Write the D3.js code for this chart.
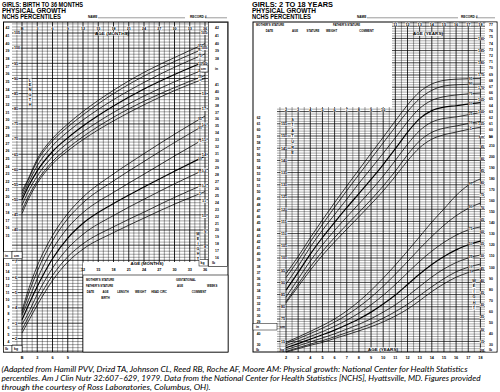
<!DOCTYPE html>
<html>
<head>
<meta charset="utf-8">
<script src="https://cdn.jsdelivr.net/npm/d3@7"></script>
<style>
  body { margin: 0; background: #fff; }
  svg { display: block; }
  text { font-family: "Liberation Sans", Arial, sans-serif; fill: #000; }
</style>
</head>
<body>
<svg id="chart" width="500" height="392"></svg>
<script>
// percentile curves, NCHS girls
const percentiles = [5, 10, 25, 50, 75, 90, 95];

// birth to 36 months
const infantMonths = [0, 1, 3, 6, 9, 12, 18, 24, 30, 36];
const infantLengthCm = [
  [45.4, 49.2, 55.4, 61.8, 66.1, 69.8, 76.0, 81.3, 86.0, 90.0],
  [46.5, 50.2, 56.2, 62.6, 67.0, 70.8, 77.2, 82.5, 87.0, 91.0],
  [48.2, 51.9, 57.8, 64.2, 68.7, 72.4, 78.8, 84.2, 88.9, 93.1],
  [49.9, 53.5, 59.5, 65.9, 70.4, 74.3, 80.9, 86.5, 91.3, 95.6],
  [51.0, 54.6, 61.2, 67.8, 72.4, 76.3, 83.0, 88.7, 93.7, 98.1],
  [52.0, 55.6, 62.7, 69.4, 74.0, 78.0, 85.0, 90.8, 95.6, 100.0],
  [52.9, 56.1, 63.4, 70.2, 75.0, 79.1, 86.1, 92.0, 96.9, 101.5]
];
const infantWeightKg = [
  [2.36, 2.97, 4.18, 5.79, 7.00, 7.84, 8.92, 9.87, 10.78, 11.60],
  [2.58, 3.22, 4.47, 6.12, 7.34, 8.19, 9.30, 10.26, 11.22, 12.10],
  [2.93, 3.50, 4.88, 6.60, 7.89, 8.81, 10.04, 11.10, 12.11, 13.05],
  [3.23, 3.98, 5.40, 7.21, 8.56, 9.53, 10.82, 11.90, 12.93, 13.93],
  [3.52, 4.29, 5.90, 7.83, 9.24, 10.23, 11.55, 12.74, 13.93, 15.08],
  [3.64, 4.65, 6.39, 8.38, 9.83, 10.87, 12.30, 13.57, 14.81, 15.97],
  [3.81, 4.92, 6.74, 8.73, 10.17, 11.24, 12.76, 14.08, 15.35, 16.54]
];

// 2 to 18 years
const childYears = [2, 3, 4, 5, 6, 7, 8, 9, 10, 11, 12, 13, 14, 15, 16, 17, 18];
const childStatureCm = [
  [81.6, 88.3, 95.0, 101.1, 106.6, 111.8, 116.9, 122.1, 127.5, 133.5, 139.8, 145.2, 148.7, 150.5, 151.6, 152.7, 153.6],
  [82.1, 89.3, 96.4, 102.7, 108.4, 113.6, 118.7, 123.9, 129.5, 135.6, 142.3, 148.0, 151.5, 153.2, 154.1, 155.1, 156.0],
  [84.0, 91.4, 98.8, 105.4, 111.3, 116.8, 122.2, 127.7, 133.6, 140.0, 146.6, 152.2, 155.7, 157.2, 157.8, 158.7, 159.6],
  [86.8, 94.1, 101.6, 108.4, 114.6, 120.6, 126.4, 132.2, 138.3, 144.8, 151.5, 157.1, 160.4, 161.8, 162.4, 163.1, 163.7],
  [89.3, 96.6, 104.5, 111.4, 117.8, 124.1, 130.6, 136.7, 142.9, 149.3, 155.8, 161.3, 164.6, 166.1, 166.8, 167.3, 167.6],
  [92.0, 99.0, 106.6, 113.8, 120.8, 127.6, 134.2, 140.7, 147.2, 153.7, 160.0, 165.3, 168.7, 170.5, 171.0, 171.2, 171.3],
  [93.6, 100.6, 108.3, 115.6, 122.7, 129.5, 136.2, 142.9, 149.5, 156.2, 162.7, 168.1, 171.3, 172.8, 173.3, 173.5, 173.6]
];
const childWeightKg = [
  [10.6, 12.0, 13.4, 14.6, 16.2, 17.7, 19.3, 21.0, 23.0, 25.4, 28.2, 31.7, 35.4, 38.6, 41.3, 43.2, 44.7],
  [10.9, 12.4, 13.9, 15.3, 16.9, 18.6, 20.3, 22.2, 24.5, 27.2, 30.2, 33.8, 37.4, 40.7, 43.5, 45.4, 46.7],
  [11.6, 13.2, 14.8, 16.4, 18.1, 20.0, 22.0, 24.3, 27.0, 30.0, 33.6, 37.5, 41.4, 44.7, 47.3, 49.2, 50.4],
  [12.4, 14.1, 15.9, 17.7, 19.6, 21.8, 24.2, 27.0, 30.3, 34.0, 38.3, 42.6, 46.5, 49.8, 52.5, 54.6, 56.1],
  [13.3, 15.1, 17.0, 19.0, 21.2, 23.7, 26.6, 30.0, 33.9, 38.3, 43.1, 47.8, 52.0, 55.6, 58.5, 60.7, 61.9],
  [14.1, 16.1, 18.2, 20.4, 22.9, 25.8, 29.2, 33.1, 37.6, 42.5, 47.7, 53.0, 58.0, 62.6, 66.5, 69.5, 71.7],
  [14.6, 16.8, 19.1, 21.5, 24.2, 27.5, 31.4, 35.9, 40.9, 46.3, 52.0, 57.9, 63.9, 69.3, 74.8, 79.0, 81.6]
];

// tick labels
const monthTicks = [0, 3, 6, 9, 12, 15, 18, 21, 24, 27, 30, 33, 36];
const yearTicks = d3.range(2, 19);
const footnote = [
  "(Adapted from Hamill PVV, Drizd TA, Johnson CL, Reed RB, Roche AF, Moore AM: Physical growth: National Center for Health Statistics",
  "percentiles. Am J Clin Nutr 32:607\u2013629, 1979. Data from the National Center for Health Statistics [NCHS], Hyattsville, MD. Figures provided",
  "through the courtesy of Ross Laboratories, Columbus, OH)."
];

const svg = d3.select("#chart");
svg.append("rect").attr("width", 500).attr("height", 392).attr("fill", "#fff");

// scales
const xL = d3.scaleLinear().domain([0, 36]).range([22, 205]);
const yLen = d3.scaleLinear().domain([105, 40]).range([33, 230]);
const yWt = d3.scaleLinear().domain([8, 18]).range([246.7, 93.7]);
const xR = d3.scaleLinear().domain([2, 18]).range([286, 480.4]);
const yS = d3.scaleLinear().domain([150, 100]).range([136, 258]);
const yW = d3.scaleLinear().domain([50, 10]).range([256, 353.6]);

const gGrid = svg.append("g").attr("stroke", "#000");
const gLines = svg.append("g").attr("stroke", "#000");
const gLab = svg.append("g");

function line(x1, y1, x2, y2, w, g) {
  (g || gLines).append("line")
    .attr("x1", x1).attr("y1", y1).attr("x2", x2).attr("y2", y2)
    .attr("stroke-width", w || 0.6);
}
function text(x, y, s, size, opt) {
  opt = opt || {};
  const t = gLab.append("text").attr("x", x).attr("y", y).text(s)
    .attr("font-size", size)
    .attr("text-anchor", opt.anchor || "start");
  if (opt.bold) t.attr("font-weight", "bold");
  if (opt.italic) t.attr("font-style", "italic");
  if (opt.family) t.style("font-family", opt.family);
  if (opt.len) t.attr("textLength", opt.len).attr("lengthAdjust", "spacingAndGlyphs");
  return t;
}
function boxText(x, y, s, size, anchor, bold) {
  const w = String(s).length * size * 0.56 + 0.8;
  const x0 = anchor === "middle" ? x - w / 2 : anchor === "end" ? x - w + 0.4 : x - 0.4;
  gLab.append("rect").attr("x", x0).attr("y", y - size * 0.8)
    .attr("width", w).attr("height", size * 0.95).attr("fill", "#fff");
  return text(x, y, s, size, { anchor: anchor, bold: bold !== false });
}
function whiteBox(x, y, w, h) {
  gLab.append("rect").attr("x", x).attr("y", y).attr("width", w).attr("height", h)
    .attr("fill", "#fff").attr("stroke", "#000").attr("stroke-width", 0.5);
}
function vword(x, y0, word, step, size) {
  word.split("").forEach((ch, i) => {
    gLab.append("rect").attr("x", x - size * 0.45).attr("y", y0 + i * step - size * 0.8)
      .attr("width", size * 0.9).attr("height", size * 0.95).attr("fill", "#fff");
    text(x, y0 + i * step, ch, size, { anchor: "middle", bold: true });
  });
}

// ---------- titles ----------
function header(x0, title, nameX, nameEnd, recX, recEnd) {
  text(x0, 7, title, 6.4, { bold: true, len: 81 });
  text(x0, 12.8, "PHYSICAL GROWTH", 6.4, { bold: true, len: 64 });
  text(x0, 18.6, "NCHS PERCENTILES", 6.4, { bold: true, len: 59 });
  text(nameX, 17.5, "NAME", 3.2, { bold: true });
  line(nameX + 10, 17.8, nameEnd, 17.8, 0.4);
  text(recX, 17.5, "RECORD #", 3.2, { bold: true });
  line(recX + 15, 17.8, recEnd, 17.8, 0.4);
}
header(2, "GIRLS: BIRTH TO 36 MONTHS", 88, 185, 190, 227);
header(252, "GIRLS: 2 TO 18 YEARS", 357, 458, 461, 495);

// ---------- left panel grid ----------
d3.range(-2, 37).forEach(m => {
  const x = xL(m);
  if (x < 12) return;
  line(x, 22, x, m <= 12 ? 352 : 262, m % 3 === 0 ? 0.85 : 0.38, gGrid);
});
d3.range(30, 109).forEach(c => {
  const y = yLen(c);
  if (y < 22 || y > 262) return;
  line(12, y, 208, y, c % 5 === 0 ? 0.8 : 0.36, gGrid);
});
d3.range(12, 69, 2).forEach(k => {
  const kg = k / 10, y = yWt(kg);
  if (y < 263 || y > 352) return;
  line(12, y, 83, y, k % 10 === 0 ? 0.8 : 0.36, gGrid);
});

// ---------- right panel grid ----------
d3.range(3, 37).forEach(h => {
  const a = h / 2, x = xR(a);
  line(x, a > 10.5 ? 22 : 107, x, 352, h % 2 === 0 ? 0.8 : 0.38, gGrid);
});
d3.range(70, 198).forEach(c => {
  const y = yS(c);
  if (y < 22 || y > 330) return;
  line(y < 107 ? 392 : 277, y, 485, y, c % 5 === 0 ? 0.75 : 0.34, gGrid);
});
d3.range(8, 20).forEach(kg => {
  const y = yW(kg);
  if (y < 331 || y > 352) return;
  line(277, y, 485, y, kg % 5 === 0 ? 0.75 : 0.34, gGrid);
});

// ---------- curves ----------
function drawCurves(ages, rows, xs, ys) {
  const gen = d3.line().x((d, i) => xs(ages[i])).y(d => ys(d)).curve(d3.curveMonotoneX);
  rows.forEach((row, i) => {
    gLines.append("path").attr("d", gen(row)).attr("fill", "none")
      .attr("stroke-width", percentiles[i] === 50 ? 1.2 : 0.75);
  });
}
drawCurves(infantMonths, infantLengthCm, xL, yLen);
drawCurves(infantMonths, infantWeightKg, xL, yWt);
drawCurves(childYears, childStatureCm, xR, yS);
drawCurves(childYears, childWeightKg, xR, yW);

// percentile tags at curve ends
function tags(ages, rows, xs, ys, at) {
  rows.forEach((row, i) => {
    const v = d3.scaleLinear().domain(ages).range(row)(at);
    boxText(xs(at), ys(v) + 1, percentiles[i], 2.8, "middle", true);
  });
}
tags(infantMonths, infantLengthCm, xL, yLen, 35);
tags(infantMonths, infantWeightKg, xL, yWt, 35);
tags(childYears, childStatureCm, xR, yS, 17.2);
tags(childYears, childWeightKg, xR, yW, 17.2);

// ---------- left panel frame and scales ----------
gLab.append("rect").attr("x", 3.5).attr("y", 22).attr("width", 224.5).attr("height", 330)
  .attr("fill", "none").attr("stroke", "#000").attr("stroke-width", 1);
line(12, 22, 12, 352, 0.8, gLab);
line(208, 22, 208, 262, 0.8, gLab);
line(83, 262, 208, 262, 0.8, gLab);
gLab.append("rect").attr("x", 208.5).attr("y", 22.5).attr("width", 19).attr("height", 244)
  .attr("fill", "#fff").attr("stroke", "#000").attr("stroke-width", 0.6);
gLab.append("rect").attr("x", 83).attr("y", 262.5).attr("width", 125).attr("height", 12.5).attr("fill", "#fff");
line(208, 73, 228, 73, 0.7, gLab);
line(208, 78, 228, 78, 0.7, gLab);

// inches, left
d3.range(15, 43).forEach(i => {
  const y = yLen(i * 2.54);
  text(9.4, y + 1.2, i, 3.4, { anchor: "end", bold: true });
  line(9.6, y, 12, y, 0.5, gLab);
});
whiteBox(3.5, 251.5, 8.5, 7);
whiteBox(12, 251.5, 10, 7);
text(5, 256.5, "in", 3.4, { bold: true });
text(14, 256.5, "cm", 3.4, { bold: true });
d3.range(40, 106, 5).forEach(c => boxText(14, yLen(c) + 1.3, c, 3.6, "start"));
// pounds / kg, lower left
d3.range(4, 16).forEach(lb => {
  const y = yWt(lb / 2.2046);
  if (y < 260 || y > 345) return;
  text(9.4, y + 1.2, lb, 3.4, { anchor: "end", bold: true });
  line(9.6, y, 12, y, 0.5, gLab);
});
d3.range(2, 8).forEach(kg => boxText(15, yWt(kg) + 1.3, kg, 3.8, "start"));
whiteBox(3.5, 345.5, 8.5, 6.5);
whiteBox(12, 345.5, 10, 6.5);
text(5, 350.2, "lb", 3.4, { bold: true });
text(14, 350.2, "kg", 3.4, { bold: true });

// right side: cm / in, kg / lb
d3.range(95, 106, 5).forEach(c => boxText(207, yLen(c) + 1.3, c, 3.6, "end"));
d3.range(38, 43).forEach(i => {
  const y = yLen(i * 2.54);
  text(215, y + 1.2, i, 3.4, { bold: true });
  line(208, y, 211, y, 0.5, gLab);
});
whiteBox(200, 65, 8, 7);
text(201, 69.9, "cm", 3.4, { bold: true });
text(215, 69.9, "in", 3.4, { bold: true });
d3.range(8, 19).forEach(kg => boxText(206, yWt(kg) + 1.3, kg, 3.8, "end"));
d3.range(16, 42).forEach(lb => {
  const y = yWt(lb / 2.2046);
  text(215, y + 1.2, lb, 3.4, { bold: true });
  line(208, y, 211, y, 0.5, gLab);
});
whiteBox(199, 259.5, 9, 6.5);
text(200.5, 264.2, "kg", 3.4, { bold: true });
text(212, 264.2, "lb", 3.4, { bold: true });

// age axes (months)
monthTicks.forEach(m => boxText(xL(m), 29.6, m === 0 ? "B" : m, 3.8, "middle"));
monthTicks.filter(m => m >= 12).forEach(m => {
  text(xL(m), 270.5, m, 3.8, { anchor: "middle", bold: true });
  line(xL(m), 262, xL(m), 266.5, 0.6, gLab);
});
monthTicks.filter(m => m <= 9).forEach(m => text(xL(m), 358.5, m === 0 ? "B" : m, 3.8, { anchor: "middle", bold: true }));
boxText(112, 34.8, "AGE (MONTHS)", 4, "middle").attr("textLength", 34).attr("lengthAdjust", "spacingAndGlyphs");
boxText(147, 265.2, "AGE (MONTHS)", 4, "middle").attr("textLength", 33).attr("lengthAdjust", "spacingAndGlyphs");
vword(30, 81.5, "LENGTH", 4.8, 3.8);
vword(198, 234.5, "WEIGHT", 5, 3.8);

// table, left panel
gLab.append("rect").attr("x", 83).attr("y", 275).attr("width", 145).attr("height", 77)
  .attr("fill", "#fff").attr("stroke", "#000").attr("stroke-width", 0.6);
text(86, 280.6, "MOTHER'S STATURE", 2.8, { bold: true });
line(112, 281, 170, 281, 0.4, gLab);
text(176, 280.6, "GESTATIONAL", 2.8, { bold: true });
text(86, 286.6, "FATHER'S STATURE", 2.8, { bold: true });
line(112, 287, 170, 287, 0.4, gLab);
text(177, 286.6, "AGE", 2.8, { bold: true });
line(184, 287, 205, 287, 0.4, gLab);
text(207, 286.6, "WEEKS", 2.8, { bold: true });
const leftCols = [83, 98, 113, 133, 148, 170, 228];
const leftHeads = ["DATE", "AGE", "LENGTH", "WEIGHT", "HEAD CIRC", "COMMENT"];
line(83, 289, 228, 289, 0.6, gLab);
d3.range(294.5, 351, 5).forEach(y => line(83, y, 228, y, 0.5, gLab));
leftCols.slice(1, -1).forEach(x => line(x, 289, x, 352, 0.5, gLab));
leftHeads.forEach((h, i) => text((leftCols[i] + leftCols[i + 1]) / 2, 293.1, h, 2.8, { anchor: "middle", bold: true }));
text(105.5, 298.6, "BIRTH", 2.8, { anchor: "middle", bold: true });

// ---------- right panel frame and scales ----------
gLab.append("rect").attr("x", 253).attr("y", 22).attr("width", 244).attr("height", 330)
  .attr("fill", "none").attr("stroke", "#000").attr("stroke-width", 1);
line(277, 107, 277, 352, 0.8, gLab);
line(485, 22, 485, 352, 0.8, gLab);
line(392, 22, 392, 107, 0.8, gLab);
line(253, 107, 392, 107, 0.8, gLab);

// table, right panel
text(256, 26.2, "MOTHER'S STATURE", 2.8, { bold: true });
line(284, 26.6, 330, 26.6, 0.4, gLab);
text(333, 26.2, "FATHER'S STATURE", 2.8, { bold: true });
line(361, 26.6, 389, 26.6, 0.4, gLab);
const rightCols = [253, 286, 304, 322, 341, 392];
const rightHeads = ["DATE", "AGE", "STATURE", "WEIGHT", "COMMENT"];
line(253, 27.8, 392, 27.8, 0.6, gLab);
d3.range(33.5, 106, 5.85).forEach(y => line(253, y, 392, y, 0.5, gLab));
rightCols.slice(1, -1).forEach(x => line(x, 27.8, x, 107, 0.5, gLab));
rightHeads.forEach((h, i) => text((rightCols[i] + rightCols[i + 1]) / 2, 31.8, h, 2.8, { anchor: "middle", bold: true }));

// inches left
d3.range(29, 63).forEach(i => {
  const y = yS(i * 2.54);
  if (y > 323) return;
  text(260.5, y + 1.2, i, 3.4, { anchor: "end", bold: true });
  line(261, y, 264, y, 0.5, gLab);
});
d3.range(75, 160, 5).forEach(c => boxText(281, yS(c) + 1.3, c, 3.6, "start"));
whiteBox(253, 323.5, 24, 6.5);
text(256, 328.2, "in", 3.4, { bold: true });
text(280, 328.2, "cm", 3.4, { bold: true });
line(253, 330, 277, 330, 0.7, gLab);
[30, 40].forEach(lb => {
  const y = yW(lb / 2.2046);
  text(260.5, y + 1.2, lb, 3.4, { anchor: "end", bold: true });
  line(261, y, 264, y, 0.5, gLab);
});
boxText(281, yW(15) + 1.3, 15, 3.6, "start");
text(256, 350.5, "lb", 3.4, { bold: true });
boxText(280, 350.5, "kg", 3.4, "start");

// right column
gLab.append("rect").attr("x", 485.5).attr("y", 22.5).attr("width", 11).attr("height", 329).attr("fill", "#fff");
d3.range(59, 78).forEach(i => {
  const y = yS(i * 2.54);
  text(489, y + 1.2, i, 3.4, { bold: true });
  line(485, y, 488, y, 0.5, gLab);
});
d3.range(155, 195, 5).forEach(c => boxText(484, yS(c) + 1.3, c, 3.6, "end"));
line(485, 139, 497, 139, 0.7, gLab);
boxText(484, 137.6, "cm", 3.4, "end");
text(489, 137.6, "in", 3.4, { bold: true });
d3.range(15, 100, 5).forEach(kg => boxText(484, yW(kg) + 1.3, kg, 3.6, "end"));
d3.range(30, 220, 10).forEach(lb => {
  const y = yW(lb / 2.2046);
  if (y < 141) return;
  text(489, y + 1.2, lb, 3.4, { bold: true });
  line(485, y, 488, y, 0.5, gLab);
});
boxText(484, 350.5, "kg", 3.4, "end");
text(489, 350.5, "lb", 3.4, { bold: true });

// age axes (years)
yearTicks.filter(a => a >= 11).forEach(a => boxText(xR(a), 25.6, a, 3.8, "middle"));
yearTicks.filter(a => a <= 10).forEach(a => boxText(xR(a), 110.8, a, 3.8, "middle"));
yearTicks.forEach(a => text(xR(a), 359, a, 3.8, { anchor: "middle", bold: true }));
boxText(428, 35.2, "AGE (YEARS)", 4.2, "middle").attr("textLength", 30).attr("lengthAdjust", "spacingAndGlyphs");
boxText(383, 350.8, "AGE (YEARS)", 4.2, "middle").attr("textLength", 30).attr("lengthAdjust", "spacingAndGlyphs");
vword(292.5, 120.5, "STATURE", 5.6, 3.8);
vword(474, 282, "WEIGHT", 5.4, 3.8);

// ---------- footnote ----------
const fnLens = [466, 479, 209];
footnote.forEach((s, i) => text(1.5, 371.5 + i * 9.4, s, 8.4, { italic: true, family: "Lato, 'Open Sans', sans-serif", len: fnLens[i] }));
</script>
</body>
</html>
